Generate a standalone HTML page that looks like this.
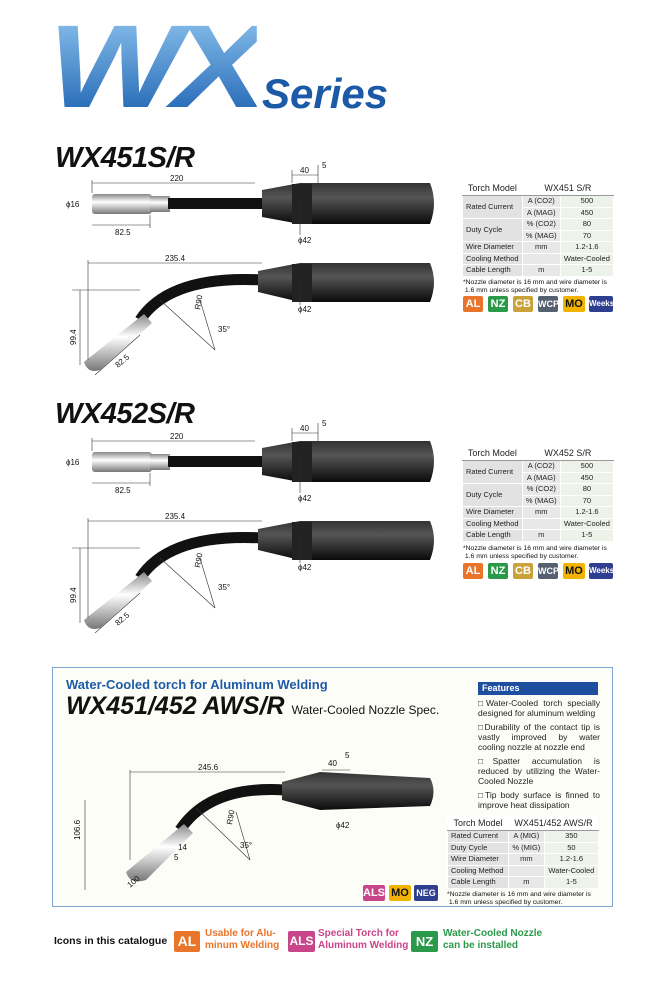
<!DOCTYPE html>
<html><head><meta charset="utf-8"><style>
body{margin:0;background:#fff;width:650px;height:982px;position:relative;overflow:hidden;font-family:"Liberation Sans",sans-serif}
.a{position:absolute}
table.s{position:absolute;border-collapse:collapse;font-size:7.5px;color:#222}
table.s td{border:1px solid #fff;background:#e8e8e8;height:10.5px;padding:0 3px;text-align:center;line-height:10px}
table.s td.l{text-align:left;background:#e2e2e2}
table.s td.v{background:#eef3ea}
table.s tr:first-child td{background:#fff;border-bottom:1px solid #999;font-size:9px;height:14px}
.note{font-size:6.8px;line-height:8px;color:#111}
.ic{position:absolute;height:16px;font:bold 11px "Liberation Sans",sans-serif;color:#fff;text-align:center;line-height:16px;border-radius:2px}
.ttl{font:italic 900 29px "Liberation Sans",sans-serif;color:#111;letter-spacing:-0.5px}
</style></head><body>
<div class="a" style="left:48px;top:8px;font:italic 900 118px 'Liberation Sans',sans-serif;letter-spacing:-8px;line-height:118px;background:linear-gradient(#8fc6ef,#1a5fb0);-webkit-background-clip:text;color:transparent;transform:scaleX(1.2);transform-origin:left">WX</div>
<div class="a" style="left:262px;top:70px;font:italic bold 42px 'Liberation Sans',sans-serif;color:#1b5aa6">Series</div>

<div class="a ttl" style="left:55px;top:142px">WX451S/R</div>
<div class="a ttl" style="left:55px;top:398px">WX452S/R</div>

<svg class="a" style="left:0;top:0" width="650" height="982">
<defs>
<linearGradient id="sil" x1="0" y1="0" x2="0" y2="1"><stop offset="0" stop-color="#888"/><stop offset=".4" stop-color="#fff"/><stop offset="1" stop-color="#777"/></linearGradient>
<linearGradient id="blk" x1="0" y1="0" x2="0" y2="1"><stop offset="0" stop-color="#333"/><stop offset=".35" stop-color="#555"/><stop offset="1" stop-color="#0a0a0a"/></linearGradient>
</defs>
<g id="t1">
<rect x="92" y="194" width="60" height="20" rx="3" fill="url(#sil)"/>
<rect x="150" y="196" width="20" height="16" fill="url(#sil)"/>
<rect x="168" y="198" width="100" height="11" fill="#111"/>
<path d="M262 190 L300 183 L430 183 Q438 203 430 224 L300 224 L262 217Z" fill="url(#blk)"/>
<rect x="292" y="184" width="20" height="40" fill="#222"/>
<g stroke="#333" stroke-width=".6" fill="none">
<line x1="92" y1="183" x2="255" y2="183"/><line x1="92" y1="180" x2="92" y2="193"/>
<line x1="92" y1="225" x2="150" y2="225"/><line x1="150" y1="215" x2="150" y2="228"/>
<line x1="292" y1="175" x2="318" y2="175"/><line x1="318" y1="165" x2="318" y2="183"/><line x1="292" y1="170" x2="292" y2="183"/>
<line x1="300" y1="200" x2="300" y2="235"/>
</g>
<g font-size="8" fill="#111" font-family="Liberation Sans">
<text x="170" y="181">220</text><text x="115" y="235">82.5</text><text x="66" y="207">ϕ16</text>
<text x="300" y="173">40</text><text x="322" y="168">5</text><text x="298" y="243">ϕ42</text>
</g>
<path d="M262 280 Q170 275 140 320" stroke="#111" stroke-width="11" fill="none"/>
<path d="M144 314 L152 323 L100 370 Q88 374 84 362Z" fill="url(#sil)"/>
<path d="M258 271 L300 263 L430 263 Q438 282 430 302 L300 302 L258 292Z" fill="url(#blk)"/>
<rect x="292" y="264" width="20" height="38" fill="#222"/>
<g stroke="#333" stroke-width=".6" fill="none">
<line x1="88" y1="263" x2="262" y2="263"/><line x1="88" y1="260" x2="88" y2="360"/>
<line x1="80" y1="290" x2="80" y2="365"/><line x1="72" y1="290" x2="140" y2="290"/>
<line x1="95" y1="375" x2="140" y2="335"/>
<line x1="160" y1="300" x2="215" y2="350"/><line x1="215" y1="350" x2="200" y2="300"/>
<line x1="300" y1="280" x2="300" y2="305"/>
</g>
<g font-size="8" fill="#111" font-family="Liberation Sans">
<text x="165" y="261">235.4</text><text transform="translate(76 345) rotate(-90)">99.4</text>
<text transform="translate(118 368) rotate(-40)">82.5</text><text transform="translate(200 310) rotate(-80)">R90</text>
<text x="218" y="332">35°</text><text x="298" y="312">ϕ42</text>
</g>
</g>
<use href="#t1" y="258"/>
</svg>

<table class="s" style="left:462px;top:180px;width:152px">
<tr><td>Torch Model</td><td colspan="2">WX451 S/R</td></tr>
<tr><td class="l" rowspan="2">Rated Current</td><td>A (CO2)</td><td class="v">500</td></tr>
<tr><td>A (MAG)</td><td class="v">450</td></tr>
<tr><td class="l" rowspan="2">Duty Cycle</td><td>% (CO2)</td><td class="v">80</td></tr>
<tr><td>% (MAG)</td><td class="v">70</td></tr>
<tr><td class="l">Wire Diameter</td><td>mm</td><td class="v">1.2-1.6</td></tr>
<tr><td class="l">Cooling Method</td><td></td><td class="v">Water-Cooled</td></tr>
<tr><td class="l">Cable Length</td><td>m</td><td class="v">1-5</td></tr>
</table>
<div class="a note" style="left:463px;top:279px">*Nozzle diameter is 16 mm and wire diameter is<br>&nbsp;1.6 mm unless specified by customer.</div>
<div class="ic" style="left:463px;top:296px;width:20px;background:#e8752a">AL</div>
<div class="ic" style="left:488px;top:296px;width:20px;background:#2a9a4a">NZ</div>
<div class="ic" style="left:513px;top:296px;width:20px;background:#c9a23a">CB</div>
<div class="ic" style="left:538px;top:296px;width:20px;background:#556070;font-size:9px">WCP</div>
<div class="ic" style="left:563px;top:296px;width:22px;background:#f2b400;color:#111">MO</div>
<div class="ic" style="left:589px;top:296px;width:24px;background:#2f3f8f;font-size:8px">Weeks</div>

<table class="s" style="left:462px;top:445px;width:152px">
<tr><td>Torch Model</td><td colspan="2">WX452 S/R</td></tr>
<tr><td class="l" rowspan="2">Rated Current</td><td>A (CO2)</td><td class="v">500</td></tr>
<tr><td>A (MAG)</td><td class="v">450</td></tr>
<tr><td class="l" rowspan="2">Duty Cycle</td><td>% (CO2)</td><td class="v">80</td></tr>
<tr><td>% (MAG)</td><td class="v">70</td></tr>
<tr><td class="l">Wire Diameter</td><td>mm</td><td class="v">1.2-1.6</td></tr>
<tr><td class="l">Cooling Method</td><td></td><td class="v">Water-Cooled</td></tr>
<tr><td class="l">Cable Length</td><td>m</td><td class="v">1-5</td></tr>
</table>
<div class="a note" style="left:463px;top:545px">*Nozzle diameter is 16 mm and wire diameter is<br>&nbsp;1.6 mm unless specified by customer.</div>
<div class="ic" style="left:463px;top:563px;width:20px;background:#e8752a">AL</div>
<div class="ic" style="left:488px;top:563px;width:20px;background:#2a9a4a">NZ</div>
<div class="ic" style="left:513px;top:563px;width:20px;background:#c9a23a">CB</div>
<div class="ic" style="left:538px;top:563px;width:20px;background:#556070;font-size:9px">WCP</div>
<div class="ic" style="left:563px;top:563px;width:22px;background:#f2b400;color:#111">MO</div>
<div class="ic" style="left:589px;top:563px;width:24px;background:#2f3f8f;font-size:8px">Weeks</div>

<div class="a" style="left:52px;top:667px;width:559px;height:238px;border:1px solid #7fa6d0;background:#fdfdf8"></div>
<div class="a" style="left:66px;top:677px;font:bold 13px 'Liberation Sans',sans-serif;color:#1e5aa8">Water-Cooled torch for Aluminum Welding</div>
<div class="a" style="left:66px;top:692px;font:italic 900 25px 'Liberation Sans',sans-serif;color:#111">WX451/452 AWS/R <span style="font:normal 12px 'Liberation Sans',sans-serif">Water-Cooled Nozzle Spec.</span></div>
<div class="a" style="left:478px;top:682px;width:120px;height:13px;background:#1e4f9f;color:#fff;font:bold 9px 'Liberation Sans',sans-serif;line-height:13px;padding-left:4px;box-sizing:border-box">Features</div>
<div class="a" style="left:478px;top:698px;width:122px;font-size:8.5px;line-height:10px;color:#222;text-align:justify">
<div style="margin-bottom:4px">□Water-Cooled torch specially designed for aluminum welding</div>
<div style="margin-bottom:4px">□Durability of the contact tip is vastly improved by water cooling nozzle at nozzle end</div>
<div style="margin-bottom:4px">□Spatter accumulation is reduced by utilizing the Water-Cooled Nozzle</div>
<div>□Tip body surface is finned to improve heat dissipation</div>
</div>
<svg class="a" style="left:0;top:0" width="650" height="982">
<path d="M285 790 Q210 785 180 830" stroke="#111" stroke-width="11" fill="none"/>
<path d="M184 824 L193 833 L146 880 Q130 885 126 872Z" fill="url(#sil)"/>
<path d="M282 782 L320 772 L430 778 Q437 791 430 806 L320 810 L282 800Z" fill="url(#blk)"/>
<g stroke="#333" stroke-width=".6" fill="none">
<line x1="130" y1="772" x2="285" y2="772"/><line x1="130" y1="770" x2="130" y2="860"/>
<line x1="322" y1="770" x2="350" y2="770"/><line x1="85" y1="800" x2="85" y2="890"/>
<line x1="196" y1="808" x2="250" y2="860"/><line x1="250" y1="860" x2="236" y2="812"/>
</g>
<g font-size="8" fill="#111" font-family="Liberation Sans">
<text x="198" y="770">245.6</text><text x="328" y="766">40</text><text x="345" y="758">5</text>
<text x="336" y="828">ϕ42</text><text transform="translate(80 840) rotate(-90)">106.6</text>
<text transform="translate(130 888) rotate(-40)">100</text><text x="174" y="860">5</text><text x="178" y="850">14</text>
<text transform="translate(232 825) rotate(-80)">R90</text><text x="240" y="848">35°</text>
</g>
</svg>
<table class="s" style="left:447px;top:815px;width:152px">
<tr><td>Torch Model</td><td colspan="2">WX451/452 AWS/R</td></tr>
<tr><td class="l">Rated Current</td><td>A (MIG)</td><td class="v">350</td></tr>
<tr><td class="l">Duty Cycle</td><td>% (MIG)</td><td class="v">50</td></tr>
<tr><td class="l">Wire Diameter</td><td>mm</td><td class="v">1.2-1.6</td></tr>
<tr><td class="l">Cooling Method</td><td></td><td class="v">Water-Cooled</td></tr>
<tr><td class="l">Cable Length</td><td>m</td><td class="v">1-5</td></tr>
</table>
<div class="a note" style="left:447px;top:891px">*Nozzle diameter is 16 mm and wire diameter is<br>&nbsp;1.6 mm unless specified by customer.</div>
<div class="ic" style="left:363px;top:885px;width:22px;background:#c8458a">ALS</div>
<div class="ic" style="left:389px;top:885px;width:22px;background:#f2b400;color:#111">MO</div>
<div class="ic" style="left:414px;top:885px;width:24px;background:#2f3f8f;font-size:9px">NEG</div>

<div class="a" style="left:54px;top:935px;font:bold 10.5px 'Liberation Sans',sans-serif;color:#111">Icons in this catalogue</div>
<div class="ic" style="left:174px;top:931px;width:26px;height:21px;line-height:21px;font-size:14px;background:#e8752a">AL</div>
<div class="a" style="left:205px;top:928px;font:bold 10px/12px 'Liberation Sans',sans-serif;color:#e8752a">Usable for Alu-<br>minum Welding</div>
<div class="ic" style="left:288px;top:931px;width:27px;height:21px;line-height:21px;font-size:12px;background:#c8458a">ALS</div>
<div class="a" style="left:318px;top:928px;font:bold 10px/12px 'Liberation Sans',sans-serif;color:#c8458a">Special Torch for<br>Aluminum Welding</div>
<div class="ic" style="left:411px;top:931px;width:27px;height:21px;line-height:21px;font-size:13px;background:#2a9a4a">NZ</div>
<div class="a" style="left:443px;top:928px;font:bold 10px/12px 'Liberation Sans',sans-serif;color:#2a9a4a">Water-Cooled Nozzle<br>can be installed</div>
</body></html>
